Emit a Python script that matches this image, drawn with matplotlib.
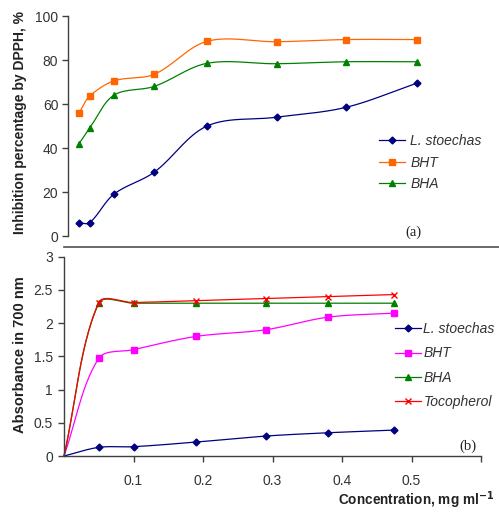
import numpy as np
import matplotlib
matplotlib.use("Agg")
import matplotlib.pyplot as plt
from matplotlib.lines import Line2D

plt.rcParams['font.family'] = ['Liberation Sans', 'DejaVu Sans']

# ---------------- data ----------------
# panel (a): DPPH inhibition (%)
conc_a = [0.022, 0.037, 0.072, 0.13, 0.206, 0.306, 0.406, 0.508]
a_stoechas = [6, 6, 19, 29, 50, 54, 58.5, 69.5]
a_bht = [56, 63.5, 70.5, 73.5, 88.5, 88.3, 89.3, 89.3]
a_bha = [42, 49, 64, 68, 78.5, 78.3, 79.2, 79.2]

# panel (b): absorbance at 700 nm
conc_b = [0, 0.05, 0.1, 0.19, 0.29, 0.38, 0.475]
b_stoechas = [0, 0.13, 0.14, 0.21, 0.30, 0.35, 0.39]
b_bht = [0, 1.47, 1.60, 1.80, 1.90, 2.09, 2.15]
b_bha = [0, 2.30, 2.30, 2.30, 2.30, 2.30, 2.30]
b_toco = [0, 2.31, 2.31, 2.34, 2.37, 2.40, 2.43]

a_labels = ['L. stoechas', 'BHT', 'BHA']
b_labels = ['L. stoechas', 'BHT', 'BHA', 'Tocopherol']
a_yticks = [0, 20, 40, 60, 80, 100]
b_yticks = [0, 0.5, 1, 1.5, 2, 2.5, 3]
b_yticklabels = ['0', '0.5', '1', '1.5', '2', '2.5', '3']
b_xticks = [0.1, 0.2, 0.3, 0.4, 0.5, 0.6]
b_xticklabels = ['0.1', '0.2', '0.3', '0.4', '0.5', '']

W, H = 499, 512
fig = plt.figure(figsize=(W / 100, H / 100), dpi=100)


def rect(l, t, r, b):
    return [l / W, 1 - b / H, (r - l) / W, (b - t) / H]


def smooth(ax, x, y, n=30):
    pts = ax.transData.transform(np.column_stack([x, y]))
    out = [pts[0]]
    m = len(pts)
    t = np.linspace(0, 1, n)[1:][:, None]
    for i in range(m - 1):
        p1, p2 = pts[i], pts[i + 1]
        p0 = pts[i - 1] if i > 0 else p1
        p3 = pts[i + 2] if i + 2 < m else p2
        d01 = np.linalg.norm(p1 - p0)
        d12 = np.linalg.norm(p2 - p1)
        d23 = np.linalg.norm(p3 - p2)
        f1 = d12 / (d01 + d12) / 3 if d01 + d12 > 0 else 0
        f2 = d12 / (d12 + d23) / 3 if d12 + d23 > 0 else 0
        c1 = p1 + (p2 - p0) * f1
        c2 = p2 - (p3 - p1) * f2
        seg = ((1 - t) ** 3) * p1 + 3 * ((1 - t) ** 2) * t * c1 + 3 * (1 - t) * t ** 2 * c2 + t ** 3 * p2
        out.extend(seg)
    out = ax.transData.inverted().transform(np.array(out))
    return out[:, 0], out[:, 1]


def style_axes(ax):
    for s in ['top', 'right']:
        ax.spines[s].set_visible(False)
    for s in ['left', 'bottom']:
        ax.spines[s].set_color('#404040')
        ax.spines[s].set_linewidth(1.0)
    ax.tick_params(direction='out', length=4, width=1, color='#404040',
                   labelcolor='#333333', labelsize=10)
    ax.set_facecolor('none')


# ---------------- panel (a) ----------------
axA = fig.add_axes(rect(68, 16, 481, 236))
axA.set_xlim(0.006, 0.6)
axA.set_ylim(0, 100)
style_axes(axA)
axA.spines['bottom'].set_visible(False)
axA.set_xticks([])
axA.set_yticks(a_yticks)
axA.tick_params(axis='y', pad=3)

a_styles = [('#000080', 'D', 3.5), ('#FF6600', 's', 4.5), ('#008000', '^', 5.0)]
a_series = [a_stoechas, a_bht, a_bha]
handles = []
for (c, mk, ms), ys, lab in zip(a_styles, a_series, a_labels):
    sx, sy = smooth(axA, conc_a, ys)
    axA.plot(sx, sy, color=c, lw=0.9, clip_on=False)
    axA.plot(conc_a, ys, ls='none', marker=mk, ms=ms, color=c, clip_on=False)
    handles.append(Line2D([], [], color=c, lw=0.9, marker=mk, ms=ms))
legA = fig.legend(handles, a_labels, loc='upper left',
                  bbox_to_anchor=(379 / W, 1 - 134 / H), frameon=False,
                  prop={'style': 'italic', 'size': 10}, handlelength=1.9,
                  handletextpad=0.35, labelspacing=0.55, borderpad=0,
                  borderaxespad=0)
for t in legA.get_texts():
    t.set_color('#333333')
fig.text(413 / W, 1 - 232 / H, '(a)', family='Liberation Serif', size=10.5,
         ha='center', va='center', color='#222222')

fig.text(20 / W, 1 - 122 / H, 'Inhibition percentage by DPPH, %', rotation=90,
         ha='center', va='center', weight='bold', size=10, color='#222222')

# separator line
fig.add_artist(Line2D([64 / W, 1.0], [1 - 247 / H, 1 - 247 / H],
                      color='#505050', lw=1.2))

# ---------------- panel (b) ----------------
axB = fig.add_axes(rect(64, 256.7, 481, 456))
axB.set_xlim(0, 0.6)
axB.set_ylim(0, 3)
style_axes(axB)
axB.set_yticks(b_yticks)
axB.set_yticklabels(b_yticklabels)
axB.set_xticks(b_xticks)
axB.set_xticklabels(b_xticklabels)
axB.tick_params(axis='x', pad=9)
axB.tick_params(axis='y', pad=4)

b_styles = [('#000080', 'D', 3.5), ('#FF00FF', 's', 4.5),
            ('#008000', '^', 5.0), ('#FF0000', 'x', 4.5)]
b_series = [b_stoechas, b_bht, b_bha, b_toco]
handles = []
for (c, mk, ms), ys, lab in zip(b_styles, b_series, b_labels):
    sx, sy = smooth(axB, conc_b, ys)
    axB.plot(sx, sy, color=c, lw=0.9, clip_on=False)
    axB.plot(conc_b[1:], ys[1:], ls='none', marker=mk, ms=ms, color=c,
             mew=1.0, clip_on=False)
    handles.append(Line2D([], [], color=c, lw=0.9, marker=mk, ms=ms, mew=1.0))
legB = fig.legend(handles, b_labels, loc='upper left',
                  bbox_to_anchor=(395 / W, 1 - 322 / H), frameon=False,
                  prop={'style': 'italic', 'size': 10}, handlelength=1.9,
                  handletextpad=0.15, labelspacing=0.75, borderpad=0,
                  borderaxespad=0)
for t in legB.get_texts():
    t.set_color('#333333')
fig.text(468 / W, 1 - 446 / H, '(b)', family='Liberation Serif', size=10.5,
         ha='center', va='center', color='#222222')

fig.text(20 / W, 1 - 355 / H, 'Absorbance in 700 nm', rotation=90,
         ha='center', va='center', weight='bold', size=10.5, color='#222222')
fig.text(494 / W, 1 - 500 / H, r'Concentration, mg ml$^{\mathbf{-1}}$',
         ha='right', va='center', weight='bold', size=9.8, color='#222222')

fig.savefig('out.png', dpi=100)
